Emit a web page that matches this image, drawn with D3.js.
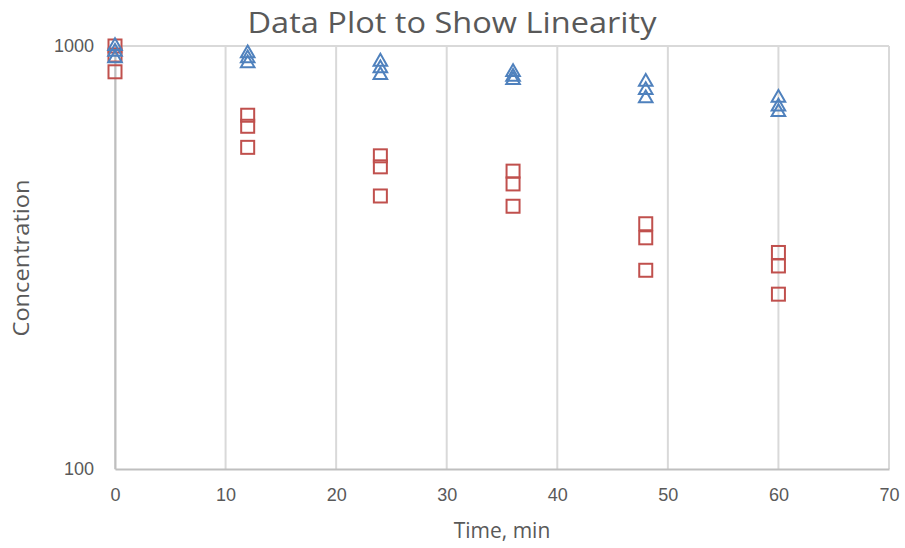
<!DOCTYPE html>
<html><head><meta charset="utf-8">
<script src="https://cdn.jsdelivr.net/npm/d3@7"></script>
<style>
body{margin:0;background:#fff;}
svg text{font-family:"Open Sans","Liberation Sans",sans-serif;fill:#595959;}
</style></head>
<body><svg id="c" width="905" height="548"></svg>
<script>
const times = [0, 12, 24, 36, 48, 60];
const seriesA = [[1000, 969, 935], [961, 935, 910], [918, 886, 854], [868, 845, 831], [823, 787, 752], [754, 719, 698]];
const seriesB = [[1000, 952, 869], [686, 646, 576], [550, 518, 442], [506, 472, 418], [380, 352, 295], [325, 302, 259]];
const xTicks = [0, 10, 20, 30, 40, 50, 60, 70];
const yTicks = [100, 1000];
const title = "Data Plot to Show Linearity";
const xLabel = "Time, min";
const yLabel = "Concentration";

const svg = d3.select("#c");
const x = d3.scaleLinear().domain([0, 70]).range([115, 889]);
const y = d3.scaleLog().domain([100, 1000]).range([469, 46]);

svg.append("g").selectAll("line").data(xTicks).join("line")
  .attr("x1", d => x(d)).attr("x2", d => x(d))
  .attr("y1", y(1000)).attr("y2", y(100))
  .attr("stroke", "#d9d9d9").attr("stroke-width", 2);
svg.append("g").selectAll("line").data(yTicks.filter(d => d !== 100)).join("line")
  .attr("x1", x(0)).attr("x2", x(70))
  .attr("y1", d => y(d)).attr("y2", d => y(d))
  .attr("stroke", "#d9d9d9").attr("stroke-width", 2);

const xAxis = svg.append("g").attr("transform", `translate(0,${y(100)})`)
  .call(d3.axisBottom(x).tickValues(xTicks).tickSize(0).tickPadding(19));
xAxis.select(".domain").attr("stroke", "#bfbfbf").attr("stroke-width", 2);
xAxis.selectAll("text").attr("font-size", 18).style("font-family", "inherit");

const yAxis = svg.append("g").attr("transform", `translate(${x(0)},0)`)
  .call(d3.axisLeft(y).tickValues(yTicks).tickFormat(d3.format("d")).tickSize(0).tickPadding(21));
yAxis.select(".domain").attr("stroke", "#bfbfbf").attr("stroke-width", 2);
yAxis.selectAll("text").attr("font-size", 18).style("font-family", "inherit");

function flat(s) { return s.flatMap((vals, i) => vals.map(v => ({t: times[i], v}))); }

const sz = 13;
svg.append("g").selectAll("rect").data(flat(seriesB)).join("rect")
  .attr("x", d => x(d.t) - sz / 2).attr("y", d => y(d.v) - sz / 2)
  .attr("width", sz).attr("height", sz)
  .attr("fill", "none").attr("stroke", "#C0504D").attr("stroke-width", 2);

const tri = d3.symbol().type(d3.symbolTriangle).size(80);
svg.append("g").selectAll("path").data(flat(seriesA)).join("path")
  .attr("d", tri)
  .attr("transform", d => `translate(${x(d.t)},${y(d.v)})`)
  .attr("fill", "none").attr("stroke", "#4F81BD").attr("stroke-width", 2);

svg.append("text").attr("x", 452).attr("y", 33).attr("text-anchor", "middle")
  .attr("font-size", 29).attr("textLength", 409).attr("lengthAdjust", "spacingAndGlyphs").text(title);
svg.append("text").attr("x", 502).attr("y", 538).attr("text-anchor", "middle")
  .attr("font-size", 21).text(xLabel);
svg.append("text").attr("transform", "translate(29,258) rotate(-90)").attr("text-anchor", "middle")
  .attr("font-size", 21).attr("textLength", 157).attr("lengthAdjust", "spacingAndGlyphs").text(yLabel);
</script></body></html>
